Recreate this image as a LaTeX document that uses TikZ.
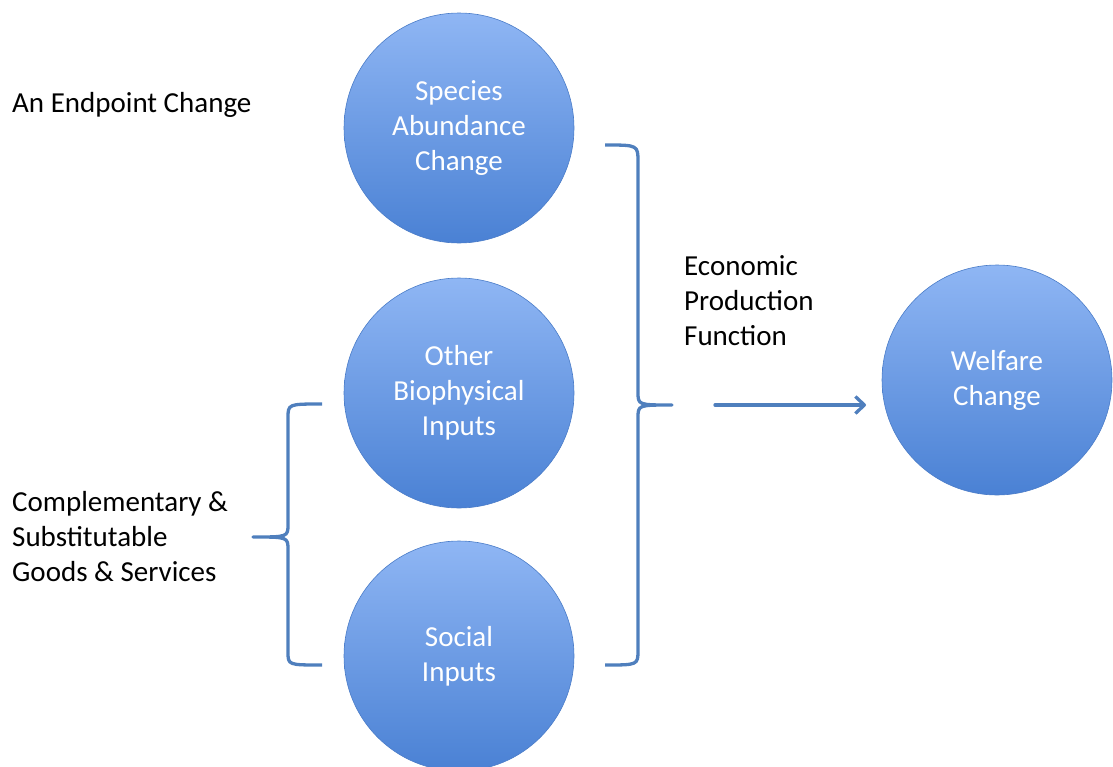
\documentclass[tikz,border=0pt]{standalone}
\usepackage{fontspec}
\setmainfont{Carlito}
\usepackage[rgb]{xcolor}
\usetikzlibrary{arrows.meta}
\tikzset{>=latex}
\definecolor{ballTop}{HTML}{8FB6F4}
\definecolor{ballBot}{HTML}{4A81D4}
\definecolor{ballRim}{HTML}{4A7CC8}
\definecolor{braceBlue}{HTML}{4F7FBD}
\tikzset{
  ball/.style={circle,minimum size=230pt,inner sep=0pt,align=center,
    top color=ballTop,bottom color=ballBot,draw=ballRim,line width=0.6pt,
    text=white,font=\fontsize{29}{35}\selectfont},
  caption/.style={anchor=west,align=left,inner sep=0pt,
    font=\fontsize{29}{35}\selectfont},
  brace/.style={draw=braceBlue,line width=3.3pt,line join=round},
  link/.style={draw=braceBlue,line width=3.3pt,line cap=round,
    -{Straight Barb[length=9pt,width=17pt,line join=round]}}
}

\begin{document}
\begin{tikzpicture}[x=1pt,y=-1pt]
  \useasboundingbox (0,0) rectangle (1113,766);

  % circles
  \node[ball] (species) at (459,128) {Species\\Abundance\\Change};
  \node[ball] (biophys) at (459,393) {Other\\Biophysical\\Inputs};
  \node[ball] (social)  at (459,656) {Social\\Inputs};
  \node[ball] (welfare) at (997,380) {Welfare\\Change};

  % side texts
  \node[caption] (endpoint) at (12,105) {An Endpoint Change};
  \node[caption] (econ) at (684,301) {Economic\\Production\\Function};
  \node[caption] (compl) at (12,537) {Complementary \&\\Substitutable\\Goods \& Services};

  % right brace
  \draw[brace] (605,145) .. controls (638,145) .. (638,162) -- (638,392)
    .. controls (638,405) .. (672,405) .. controls (638,405) .. (638,418)
    -- (638,650) .. controls (638,665) .. (605,665);

  % left brace
  \draw[brace] (322,404) .. controls (288,404) .. (288,418) -- (288,524)
    .. controls (288,537) .. (253,537) .. controls (288,537) .. (288,550)
    -- (288,652) .. controls (288,665) .. (322,665);

  % arrow
  \coordinate (from) at (715,405);
  \coordinate (to) at (866,405);
  \draw[link] (from) -- (to);

\end{tikzpicture}
\end{document}
